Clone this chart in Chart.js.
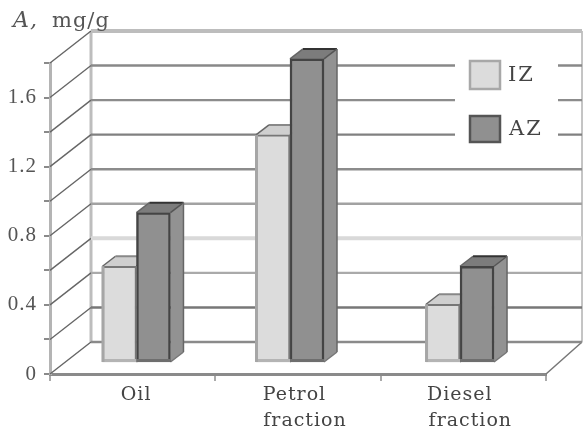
<!DOCTYPE html>
<html>
<head>
<meta charset="utf-8">
<script src="https://cdn.jsdelivr.net/npm/chart.js@4"></script>
<style>
  html, body { margin: 0; padding: 0; background: #fff; }
  canvas { display: block; filter: blur(0.6px); }
</style>
</head>
<body>
<canvas id="chart" width="583" height="430"></canvas>
<script>
var categories = ['Oil ', ['Petrol   ', 'fraction'], ['Diesel   ', 'fraction']];
var izValues = [0.56, 1.32, 0.34];
var azValues = [0.87, 1.76, 0.56];
var yTickStep = 0.2;
var yMax = 1.8;

// pseudo 3D look of the old spreadsheet chart
var wallDx = 41, wallDy = 32;
var barLift = 11, barDx = 13, barDy = 10;
var groupNudge = [3.8, -8, -3.3];
var wallColors = ['#8a8a8a', '#777', '#aaa', '#d9d9d9', '#a2a2a2', '#8c8c8c', '#808080', '#8c8c8c', '#888', '#bdbdbd'];
var serif = '"DejaVu Serif", serif';

function poly(ctx, pts, fill) {
  ctx.beginPath();
  pts.forEach(function(p, i) { i ? ctx.lineTo(p[0], p[1]) : ctx.moveTo(p[0], p[1]); });
  ctx.closePath();
  ctx.fillStyle = fill;
  ctx.fill();
}

function line(ctx, x1, y1, x2, y2, color, width) {
  ctx.beginPath();
  ctx.moveTo(x1, y1);
  ctx.lineTo(x2, y2);
  ctx.strokeStyle = color;
  ctx.lineWidth = width;
  ctx.stroke();
}

var wall3d = {
  id: 'wall3d',
  beforeDraw: function(chart) {
    chart.ctx.letterSpacing = '1px';
  },
  // move the bars back from the front edge of the floor
  afterDatasetsUpdate: function(chart) {
    chart.data.datasets.forEach(function(ds, d) {
      chart.getDatasetMeta(d).data.forEach(function(bar, i) {
        bar.x += groupNudge[i];
        bar.y -= barLift;
        bar.base -= barLift;
      });
    });
  },
  beforeDatasetsDraw: function(chart) {
    var ctx = chart.ctx, a = chart.chartArea, y = chart.scales.y;
    var backLeft = a.left + wallDx, backRight = a.right + 36;

    ctx.save();
    ctx.lineCap = 'butt';
    line(ctx, backLeft, y.getPixelForValue(yMax) - wallDy, backLeft, y.bottom - wallDy, '#bdbdbd', 3);
    line(ctx, backRight, y.getPixelForValue(yMax) - wallDy, backRight, y.bottom - wallDy, '#8a8a8a', 1);
    line(ctx, a.right, a.bottom, backRight, a.bottom - wallDy, '#777', 1.5);

    y.ticks.forEach(function(t, i) {
      var py = y.getPixelForValue(t.value);
      line(ctx, a.left, py, backLeft, py - wallDy, '#666', 1.4);
      line(ctx, backLeft, py - wallDy, backRight, py - wallDy, wallColors[i], i === 3 || i === 9 ? 4 : 2.4);
    });

    // side and top faces, the library paints the fronts over them
    chart.data.datasets.forEach(function(ds, d) {
      var az = d === 1;
      chart.getDatasetMeta(d).data.forEach(function(bar) {
        var l = bar.x - bar.width / 2, r = bar.x + bar.width / 2;
        poly(ctx, [[r, bar.y], [r + barDx, bar.y - barDy], [r + barDx, bar.base - barDy], [r, bar.base]], az ? '#929292' : '#c8c8c8');
        poly(ctx, [[l, bar.y], [l + barDx, bar.y - barDy], [r + barDx, bar.y - barDy], [r, bar.y]], az ? '#7c7c7c' : '#cfcfcf');
        line(ctx, l, bar.y, l + barDx, bar.y - barDy, '#666', 1.5);
        line(ctx, l + barDx, bar.y - barDy, r + barDx, bar.y - barDy, az ? '#333' : '#888', 2);
        line(ctx, r, bar.y, r + barDx, bar.y - barDy, '#555', 1.5);
        line(ctx, r + barDx, bar.y - barDy, r + barDx, bar.base - barDy, '#666', 1.5);
        line(ctx, r, bar.base, r + barDx, bar.base - barDy, '#777', 1.5);
      });
    });

    // legend sits on a white patch that cuts the wall lines
    ctx.fillStyle = '#fff';
    ctx.fillRect(455, 50, 103, 100);
    ctx.restore();
  },
  afterDatasetsDraw: function(chart) {
    var ctx = chart.ctx, sets = chart.data.datasets;
    ctx.save();

    // darker foot on every bar, soft left edge on the light ones
    sets.forEach(function(ds, d) {
      chart.getDatasetMeta(d).data.forEach(function(bar) {
        var l = bar.x - bar.width / 2;
        ctx.fillStyle = d === 1 ? '#6e6e6e' : '#b4b4b4';
        ctx.fillRect(l, bar.base - 3, bar.width, 3);
        if (d === 0) {
          ctx.fillStyle = '#a6a6a6';
          ctx.fillRect(l - 1, bar.y, 3, bar.base - bar.y);
        }
      });
    });

    // legend
    var rows = [{x: 470, y: 61, h: 28, text: 508, stroke: '#a8a8a8'}, {x: 470, y: 116, h: 26, text: 509, stroke: '#555'}];
    ctx.font = '21px ' + serif;
    ctx.textBaseline = 'middle';
    rows.forEach(function(row, d) {
      ctx.fillStyle = sets[d].backgroundColor;
      ctx.fillRect(row.x, row.y, 30, row.h);
      ctx.strokeStyle = row.stroke;
      ctx.lineWidth = 2.5;
      ctx.strokeRect(row.x, row.y, 30, row.h);
      ctx.fillStyle = '#444';
      ctx.letterSpacing = '2px';
      ctx.fillText(sets[d].label, row.text, row.y + row.h / 2 + 1);
    });
    ctx.letterSpacing = '1px';

    // axis caption, first letter in italics
    ctx.fillStyle = '#555';
    ctx.textBaseline = 'alphabetic';
    ctx.font = 'italic 22px ' + serif;
    ctx.fillText('A,', 13, 27);
    ctx.font = '21px ' + serif;
    ctx.fillText('mg/g', 52, 27);
    ctx.restore();
  }
};

new Chart(document.getElementById('chart').getContext('2d'), {
  type: 'bar',
  data: {
    labels: categories,
    datasets: [
      {label: 'IZ', data: izValues, backgroundColor: '#dcdcdc', borderColor: '#777', borderWidth: 2, borderSkipped: false},
      {label: 'AZ', data: azValues, backgroundColor: '#909090', borderColor: '#444', borderWidth: 2.5, borderSkipped: false}
    ]
  },
  options: {
    responsive: false,
    animation: false,
    clip: false,
    barThickness: 34,
    layout: {padding: {top: 63, right: 37, left: 0, bottom: 0}},
    plugins: {legend: {display: false}, title: {display: false}, tooltip: {enabled: false}},
    scales: {
      x: {
        grid: {drawOnChartArea: false, color: '#aaa', lineWidth: 2, tickLength: 7},
        border: {color: '#8a8a8a', width: 3},
        ticks: {
          autoSkip: false, maxRotation: 0, padding: 1, labelOffset: 7, color: '#444',
          font: {family: serif, size: 19, lineHeight: 1.38}
        },
        afterFit: function(scale) { scale.height = 56; }
      },
      y: {
        min: 0,
        max: yMax,
        grid: {drawOnChartArea: false, color: '#8a8a8a', lineWidth: 2, tickLength: 6},
        border: {color: '#b4b4b4', width: 3},
        ticks: {
          stepSize: yTickStep, padding: 7, color: '#555',
          font: {family: '"Liberation Serif", serif', size: 21},
          callback: function(v, i) { return i % 2 === 0 ? String(Math.round(v * 10) / 10) : ''; }
        },
        afterFit: function(scale) { scale.width = 50; }
      }
    }
  },
  plugins: [wall3d]
});
</script>
</body>
</html>
